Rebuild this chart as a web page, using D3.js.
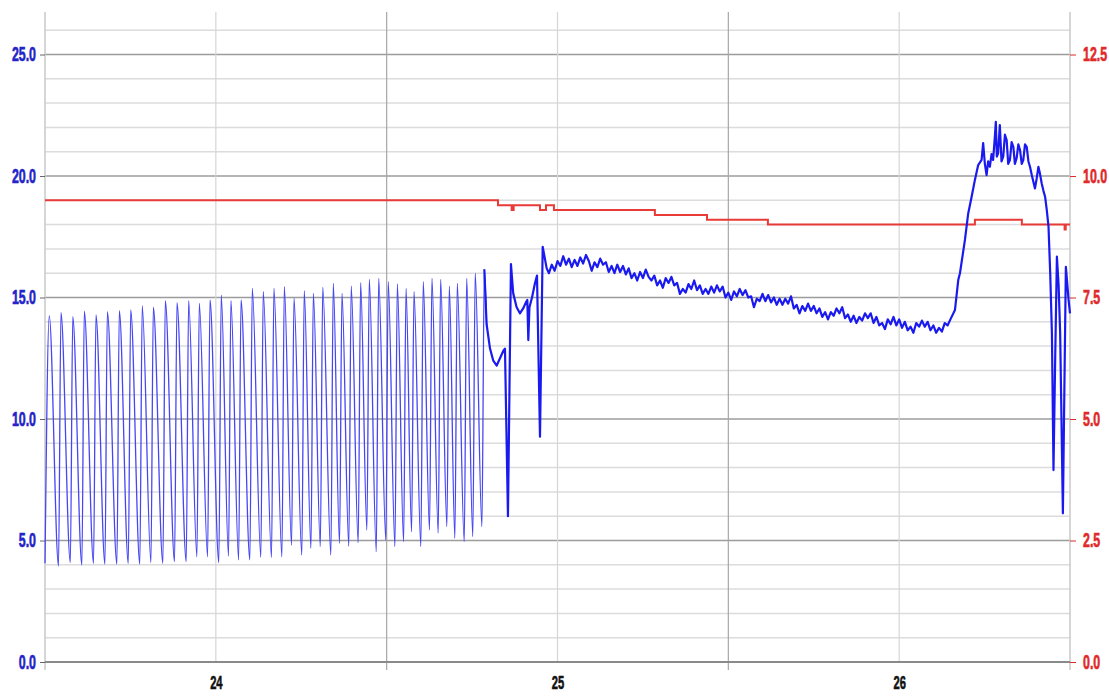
<!DOCTYPE html>
<html>
<head>
<meta charset="utf-8">
<script src="https://cdn.jsdelivr.net/npm/d3@7"></script>
<style>
  html, body { margin: 0; padding: 0; background: #fff; }
  svg { display: block; }
  .tick text {
    font-family: "Liberation Sans", Arial, sans-serif;
    font-weight: bold;
    font-size: 20px;
    stroke-width: 0.6px;
  }
  .day-axis .tick text { font-size: 18px; }
</style>
</head>
<body>
<svg id="chart" width="1109" height="697"></svg>
<script>
// ─── Data (hours since 23rd, 12:00) ─────────────────────────────────────────

// Cycling phase: each cycle = trough then peak
const cycleTroughHours = [0, 0.95, 1.78, 2.59, 3.41, 4.21, 5.05, 5.85, 6.66, 7.44, 8.28, 9.10, 9.92, 10.67, 11.42,
  12.21, 12.89, 13.60, 14.39, 15.16, 15.91, 16.64, 17.32, 18.04, 18.68, 19.34, 20.08, 20.69, 21.34, 22.00,
  22.61, 23.27, 23.94, 24.58, 25.19, 25.75, 26.40, 27.01, 27.62, 28.23, 28.79, 29.45, 30.05, 30.69];
const cycleTroughValues = [4.06, 3.95, 4.09, 3.99, 4.06, 4.03, 4.03, 4.06, 4.03, 4.09, 4.06, 4.13, 4.13, 4.33, 4.33,
  4.09, 4.36, 4.2, 4.2, 4.31, 4.3, 4.33, 4.81, 4.40, 4.68, 4.75, 4.40, 4.88, 4.77, 4.91,
  5.43, 4.54, 5.02, 4.75, 4.95, 5.36, 4.75, 5.43, 5.3, 5.57, 5.09, 4.95, 5.16, 5.57];
const cyclePeakHours = [0.30, 1.12, 1.95, 2.76, 3.58, 4.38, 5.22, 6.02, 6.83, 7.61, 8.45, 9.27, 10.09, 10.84, 11.59,
  12.38, 13.06, 13.77, 14.56, 15.33, 16.08, 16.81, 17.49, 18.21, 18.85, 19.51, 20.25, 20.86, 21.51, 22.17,
  22.78, 23.44, 24.11, 24.75, 25.36, 25.92, 26.57, 27.18, 27.79, 28.40, 28.96, 29.62, 30.22, 30.86];
const cyclePeakValues = [14.24, 14.38, 14.21, 14.44, 14.28, 14.42, 14.46, 14.49, 14.66, 14.60, 14.87, 14.79, 14.87, 14.76, 14.90,
  15.10, 14.87, 14.90, 15.38, 15.24, 15.38, 15.45, 14.97, 15.28, 15.17, 15.42, 15.58, 15.17, 15.47, 15.61,
  15.75, 15.79, 15.65, 15.56, 15.38, 15.24, 15.65, 15.79, 15.75, 15.47, 15.58, 15.79, 16.0, 16.16];

// Unsettled stretch after cycling stops
const transitionHours = [31.02, 31.26, 31.49, 31.73, 31.96, 32.19, 32.31, 32.52, 32.73, 32.89, 33.13, 33.36,
  33.59, 33.78, 33.88, 33.95, 34.03, 34.21, 34.42, 34.56, 34.77, 34.96, 35.24];
const transitionValues = [13.9, 12.9, 12.4, 12.2, 12.5, 12.8, 12.9, 6.0, 16.38, 15.17, 14.6, 14.35,
  14.55, 14.8, 14.9, 13.25, 14.6, 15.0, 15.6, 15.9, 9.27, 17.09, 16.2];

// Steady logging, one reading every 0.2 h
const steadyStartHour = 35.4;
const steadyStepHours = 0.2;
const steadyValues = [
  16.0, 16.35, 16.1, 16.5, 16.3, 16.7, 16.35, 16.6, 16.25, 16.55,
  16.3, 16.65, 16.4, 16.75, 16.5, 16.1, 16.45, 16.25, 16.6, 16.35,
  16.45, 16.05, 16.3, 16.0, 16.35, 16.05, 16.3, 15.95, 16.2, 15.8,
  16.0, 15.7, 16.05, 15.8, 16.15, 15.85, 15.7, 15.9, 15.5, 15.7,
  15.4, 15.8, 15.6, 15.85, 15.5, 15.6, 15.15, 15.35, 15.2, 15.55,
  15.35, 15.7, 15.3, 15.5, 15.15, 15.35, 15.15, 15.45, 15.2, 15.5,
  15.25, 15.45, 15.0, 15.2, 14.9, 15.25, 15.05, 15.35, 15.1, 15.3,
  15.0, 15.05, 14.6, 14.95, 14.85, 15.15, 14.85, 15.1, 14.8, 15.0,
  14.7, 14.95, 14.7, 14.95, 14.75, 15.05, 14.55, 14.7, 14.35, 14.65,
  14.45, 14.75, 14.45, 14.65, 14.35, 14.55, 14.2, 14.4, 14.1, 14.4,
  14.25, 14.55, 14.35, 14.6, 14.15, 14.3, 14.0, 14.25, 13.95, 14.2,
  14.05, 14.35, 14.15, 14.35, 13.95, 14.2, 13.85, 13.95, 13.7, 14.1,
  13.9, 14.2, 13.85, 14.1, 13.75, 14.0, 13.65, 13.8, 13.55, 13.95,
  13.8, 14.05, 13.8, 14.0, 13.65, 13.85, 13.55, 13.75, 13.6, 13.95,
  13.85, 14.1];

// Warm-up peak and final drops
const finaleHours = [63.92, 64.15, 64.27, 64.62, 64.85, 65.09, 65.32, 65.55, 65.79, 65.90, 66.02, 66.14, 66.25,
  66.37, 66.49, 66.60, 66.72, 66.79, 66.86, 66.95, 67.07, 67.19, 67.31, 67.43, 67.55, 67.66, 67.78, 67.90,
  68.02, 68.13, 68.25, 68.37, 68.49, 68.61, 68.72, 68.84, 68.96, 69.08, 69.19, 69.33, 69.54, 69.66, 69.78,
  69.89, 70.01, 70.13, 70.25, 70.37, 70.49, 70.61, 70.73, 70.84, 70.96, 71.08, 71.20, 71.31, 71.50, 71.62,
  71.71, 71.90, 72.0];
const finaleValues = [14.49, 15.72, 16.0, 17.37, 18.46, 19.15, 19.84, 20.45, 20.66, 21.35, 20.5, 20.04, 20.6,
  20.38, 20.9, 20.66, 21.6, 22.23, 20.8, 20.93, 22.1, 20.6, 20.8, 21.7, 21.48, 20.5, 20.66, 21.4,
  21.2, 20.5, 20.73, 21.3, 21.07, 20.5, 20.66, 21.3, 21.2, 20.6, 20.38, 20.0, 19.49, 19.9, 20.38,
  20.1, 19.7, 19.4, 19.15, 18.6, 17.92, 16.0, 13.52, 7.9, 12.5, 16.68, 15.5, 13.52, 6.12, 12.0,
  16.26, 14.9, 14.35];

// Red step series (right axis)
const setpointHours = [0, 31.82, 32.78, 32.92, 34.77, 35.19, 35.75, 42.84, 46.50, 50.78, 65.32, 68.62, 71.62, 71.70, 72];
const setpointValues = [9.5, 9.4, 9.3, 9.4, 9.3, 9.4, 9.3, 9.2, 9.1, 9.0, 9.1, 9.0, 8.9, 9.0, 9.0];

// Axis ticks
const leftTicks = [0, 5, 10, 15, 20, 25];
const rightTicks = [0, 2.5, 5, 7.5, 10, 12.5];
const dayTickHours = [12, 36, 60];
const noonTickHours = [24, 48];

// ─── Setup ──────────────────────────────────────────────────────────────────
const startTime = new Date(2020, 0, 23, 12);
const atHour = h => new Date(startTime.getTime() + h * 3600e3);

const margin = { top: 12, right: 39, bottom: 35, left: 45 };
const width = 1109 - margin.left - margin.right;
const height = 697 - margin.top - margin.bottom;
const squeeze = 0.62; // labels are drawn in a narrow face

const svg = d3.select('#chart');
const g = svg.append('g').attr('transform', `translate(${margin.left},${margin.top})`);

const x = d3.scaleTime().domain([atHour(0), atHour(72)]).range([0, width]);
const yLeft = d3.scaleLinear().domain([0, 26.75]).range([height, 0]);
const yRight = d3.scaleLinear().domain([0, 13.375]).range([height, 0]);

// ─── Grid ───────────────────────────────────────────────────────────────────
const minorLevels = d3.range(1, 27).filter(v => v % 5 !== 0);
g.append('g').selectAll('line').data(minorLevels).join('line')
  .attr('x1', 0).attr('x2', width)
  .attr('y1', d => yLeft(d)).attr('y2', d => yLeft(d))
  .attr('stroke', '#dcdcdc').attr('stroke-width', 1.5);

g.append('g').selectAll('line').data(leftTicks.filter(v => v > 0)).join('line')
  .attr('x1', 0).attr('x2', width)
  .attr('y1', d => yLeft(d)).attr('y2', d => yLeft(d))
  .attr('stroke', '#9c9c9c').attr('stroke-width', 1.5);

// day (midnight) lines, lighter
g.append('g').selectAll('line').data(dayTickHours).join('line')
  .attr('x1', d => x(atHour(d))).attr('x2', d => x(atHour(d)))
  .attr('y1', 0).attr('y2', height)
  .attr('stroke', '#d6d6d6').attr('stroke-width', 1.2);

// noon lines, darker and run past the axis
g.append('g').selectAll('line').data(noonTickHours).join('line')
  .attr('x1', d => x(atHour(d))).attr('x2', d => x(atHour(d)))
  .attr('y1', 0).attr('y2', height + 8)
  .attr('stroke', '#a6a6a6').attr('stroke-width', 1.2);

// frame sides
g.append('g').selectAll('line').data([0, width]).join('line')
  .attr('x1', d => d).attr('x2', d => d)
  .attr('y1', 0).attr('y2', height + 8)
  .attr('stroke', '#c8c8c8').attr('stroke-width', 1.5);

g.append('line')
  .attr('x1', 0).attr('x2', width).attr('y1', height).attr('y2', height)
  .attr('stroke', '#8a8a8a').attr('stroke-width', 1.8);

// ─── Axes ───────────────────────────────────────────────────────────────────
const leftAxis = g.append('g')
  .call(d3.axisLeft(yLeft).tickValues(leftTicks).tickFormat(d3.format('.1f')).tickSize(5));
leftAxis.select('.domain').remove();
leftAxis.selectAll('line').attr('stroke', '#666');
leftAxis.selectAll('text').attr('fill', '#2424c8').attr('stroke', '#2424c8')
  .attr('x', 0).attr('transform', `translate(-9,0) scale(${squeeze},1)`);

const rightAxis = g.append('g').attr('transform', `translate(${width},0)`)
  .call(d3.axisRight(yRight).tickValues(rightTicks).tickFormat(d3.format('.1f')).tickSize(6));
rightAxis.select('.domain').remove();
rightAxis.selectAll('line').attr('stroke', '#e02a2a');
rightAxis.selectAll('text').attr('fill', '#e02a2a').attr('stroke', '#e02a2a')
  .attr('x', 0).attr('transform', `translate(13,0) scale(${squeeze},1)`);

const bottomAxis = g.append('g').attr('class', 'day-axis').attr('transform', `translate(0,${height})`)
  .call(d3.axisBottom(x).tickValues(dayTickHours.map(atHour)).tickFormat(d3.timeFormat('%d')).tickSize(0).tickPadding(14));
bottomAxis.select('.domain').remove();
bottomAxis.selectAll('text').attr('fill', '#111').attr('stroke', '#111')
  .attr('transform', `scale(${squeeze},1)`);

// ─── Series ─────────────────────────────────────────────────────────────────
const cyclePoints = [];
cycleTroughHours.forEach((h, i) => {
  cyclePoints.push({ t: atHour(h), v: cycleTroughValues[i] });
  cyclePoints.push({ t: atHour(cyclePeakHours[i]), v: cyclePeakValues[i] });
});
const transitionPoints = d3.zip(transitionHours, transitionValues).map(([h, v]) => ({ t: atHour(h), v }));
const steadyPoints = steadyValues.map((v, i) => ({ t: atHour(steadyStartHour + i * steadyStepHours), v }));
const finalePoints = d3.zip(finaleHours, finaleValues).map(([h, v]) => ({ t: atHour(h), v }));

const setpointPoints = d3.zip(setpointHours, setpointValues).map(([h, v]) => ({ t: atHour(h), v }));

g.append('path')
  .datum(setpointPoints)
  .attr('fill', 'none')
  .attr('stroke', '#e83a36')
  .attr('stroke-width', 2)
  .attr('d', d3.line().x(d => x(d.t)).y(d => yRight(d.v)).curve(d3.curveStepAfter));

// cycling part: thin, lighter blue
g.append('path')
  .datum(cyclePoints.concat(transitionPoints.slice(0, 1)))
  .attr('fill', 'none')
  .attr('stroke', '#4646f5')
  .attr('stroke-width', 1.3)
  .attr('d', d3.line().x(d => x(d.t)).y(d => yLeft(d.v)).curve(d3.curveMonotoneX));

// noisy logging after cycling: heavier
g.append('path')
  .datum(cyclePoints.slice(-1).concat(transitionPoints, steadyPoints, finalePoints))
  .attr('fill', 'none')
  .attr('stroke', '#1a1af0')
  .attr('stroke-width', 2.2)
  .attr('stroke-linejoin', 'round')
  .attr('d', d3.line().x(d => x(d.t)).y(d => yLeft(d.v)));
</script>
</body>
</html>
